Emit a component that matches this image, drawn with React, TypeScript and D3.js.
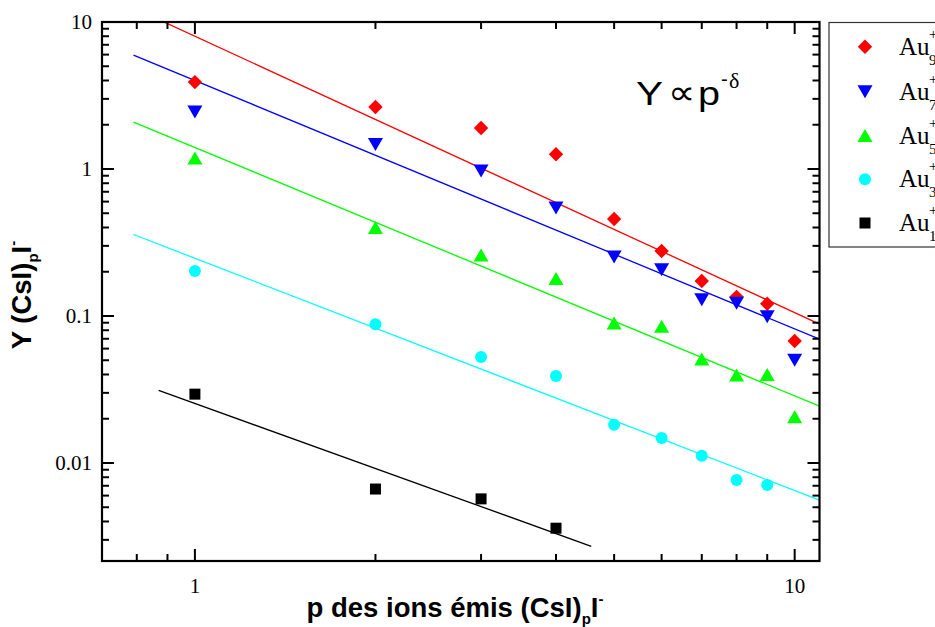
import React from 'react';
import * as d3 from 'd3';

// ---- data ----
const pValues = [1, 2, 3, 4, 5, 6, 7, 8, 9, 10];
const au9 = [3.9, 2.64, 1.9, 1.26, 0.457, 0.277, 0.173, 0.135, 0.121, 0.0676];
const au7 = [2.44, 1.47, 0.97, 0.543, 0.252, 0.206, 0.129, 0.122, 0.099, 0.050];
const au5 = [1.19, 0.40, 0.26, 0.18, 0.0896, 0.085, 0.051, 0.0397, 0.040, 0.0206];
const au3 = [0.202, 0.088, 0.0526, 0.039, 0.0182, 0.0148, 0.0112, 0.00766, 0.00708];
const au1 = [0.0294, 0.00665, 0.0057, 0.0036];

const seriesNames = ['9', '7', '5', '3', '1'];
const seriesColors = ['#ff0000', '#0000ff', '#00ff00', '#00ffff', '#000000'];
const seriesShapes = ['diamond', 'triDown', 'triUp', 'circle', 'square'];
const seriesValues = [au9, au7, au5, au3, au1];

// power-law fits Y = A * p^-delta
const fitAmp = [8.0, 4.0, 1.40, 0.247, 0.0254];
const fitDelta = [1.88, 1.69, 1.69, 1.58, 1.47];
const fitStart = [0.79, 0.79, 0.79, 0.79, 0.87];
const fitEnd = [11, 11, 11, 11, 4.58];

const xMajorTicks = [1, 10];
const xMinorTicks = [0.8, 0.9, 2, 3, 4, 5, 6, 7, 8, 9];
const yMajorTicks = [10, 1, 0.1, 0.01];
const yTickLabels = ['10', '1', '0.1', '0.01'];

// ---- layout ----
const W = 935;
const H = 627;
const L = 102, R = 819.5, T = 22, B = 561;

const x = d3.scaleLog().domain([0.7, 11]).range([L, R]);
const y = d3.scaleLog().domain([0.002154, 10]).range([B, T]);

function yMinorTicks(): number[] {
  const out: number[] = [];
  for (let e = -3; e <= 0; e++) {
    for (let m = 2; m <= 9; m++) {
      const v = m * Math.pow(10, e);
      if (v > 0.002154 && v < 10) out.push(v);
    }
  }
  return out;
}

function Marker({ shape, cx, cy, color }: { shape: string; cx: number; cy: number; color: string }) {
  if (shape === 'circle') return <circle cx={cx} cy={cy} r={6} fill={color} />;
  if (shape === 'square') return <rect x={cx - 5.5} y={cy - 5.5} width={11} height={11} fill={color} />;
  let d = '';
  if (shape === 'diamond') d = `M${cx},${cy - 7.2}L${cx + 7.2},${cy}L${cx},${cy + 7.2}L${cx - 7.2},${cy}Z`;
  if (shape === 'triDown') d = `M${cx - 7.5},${cy - 6.5}L${cx + 7.5},${cy - 6.5}L${cx},${cy + 6.5}Z`;
  if (shape === 'triUp') d = `M${cx - 7.5},${cy + 6.5}L${cx + 7.5},${cy + 6.5}L${cx},${cy - 6.5}Z`;
  return <path d={d} fill={color} />;
}

export default function App() {
  const fitPath = (i: number) => {
    const pts: [number, number][] = [fitStart[i], fitEnd[i]].map((p) => [x(p), y(fitAmp[i] * Math.pow(p, -fitDelta[i]))]);
    return d3.line()(pts) || '';
  };
  const serif = '"Liberation Serif", "Times New Roman", serif';
  const sans = '"Liberation Sans", Arial, sans-serif';
  const minorY = yMinorTicks();
  const legendY = [46.7, 91.7, 135.5, 179.3, 223];

  return (
    <svg width={W} height={H} style={{ position: 'absolute', left: 0, top: 0, background: '#fff' }}>
      <rect x={0} y={0} width={W} height={H} fill="#fff" />
      <defs>
        <clipPath id="plotClip">
          <rect x={L} y={T} width={R - L} height={B - T} />
        </clipPath>
      </defs>

      {/* fit lines */}
      <g clipPath="url(#plotClip)">
        {seriesColors.map((c, i) => (
          <path key={i} d={fitPath(i)} stroke={c} strokeWidth={1.3} fill="none" />
        ))}
      </g>

      {/* data points */}
      {seriesValues.map((vals, si) =>
        vals.map((v, j) => (
          <Marker key={`${si}-${j}`} shape={seriesShapes[si]} cx={x(pValues[j])} cy={y(v)} color={seriesColors[si]} />
        ))
      )}

      {/* ticks */}
      <g stroke="#000" strokeWidth={2}>
        {xMajorTicks.map((t) => (
          <g key={`xM${t}`}>
            <line x1={x(t)} x2={x(t)} y1={B} y2={B - 12} />
            <line x1={x(t)} x2={x(t)} y1={T} y2={T + 12} />
          </g>
        ))}
        {xMinorTicks.map((t) => (
          <g key={`xm${t}`}>
            <line x1={x(t)} x2={x(t)} y1={B} y2={B - 7} />
            <line x1={x(t)} x2={x(t)} y1={T} y2={T + 7} />
          </g>
        ))}
        {yMajorTicks.map((t) => (
          <g key={`yM${t}`}>
            <line x1={L} x2={L + 12} y1={y(t)} y2={y(t)} />
            <line x1={R} x2={R - 12} y1={y(t)} y2={y(t)} />
          </g>
        ))}
        {minorY.map((t) => (
          <g key={`ym${t}`}>
            <line x1={L} x2={L + 7} y1={y(t)} y2={y(t)} />
            <line x1={R} x2={R - 7} y1={y(t)} y2={y(t)} />
          </g>
        ))}
      </g>

      {/* frame */}
      <rect x={L} y={T} width={R - L} height={B - T} fill="none" stroke="#000" strokeWidth={2.2} />

      {/* tick labels */}
      {yMajorTicks.map((t, i) => (
        <text key={`yl${t}`} x={92} y={y(t)} dy="0.35em" textAnchor="end" fontFamily={serif} fontSize={21} fill="#000">
          {yTickLabels[i]}
        </text>
      ))}
      {xMajorTicks.map((t) => (
        <text key={`xl${t}`} x={x(t)} y={593} textAnchor="middle" fontFamily={serif} fontSize={21} fill="#000">
          {String(t)}
        </text>
      ))}

      {/* axis titles */}
      <text x={455} y={617} textAnchor="middle" fontFamily={sans} fontWeight="bold" fontSize={27.5} fill="#000">
        p des ions émis (CsI)
        <tspan fontSize={15} dy={7}>p</tspan>
        <tspan fontSize={27.5} dy={-7}>I</tspan>
        <tspan fontSize={15} dy={-13}>-</tspan>
      </text>
      <text
        transform={`translate(31,295) rotate(-90)`}
        textAnchor="middle"
        fontFamily={sans}
        fontWeight="bold"
        fontSize={27.5}
        fill="#000"
      >
        Y (CsI)
        <tspan fontSize={15} dy={7}>p</tspan>
        <tspan fontSize={27.5} dy={-7}>I</tspan>
        <tspan fontSize={15} dy={-13}>-</tspan>
      </text>

      {/* annotation */}
      <g fill="#000">
        <text x={636} y={105} fontFamily={sans} fontSize={34} textLength={27} lengthAdjust="spacingAndGlyphs">Y</text>
        <text x={668} y={104} fontFamily={sans} fontSize={34} textLength={27} lengthAdjust="spacingAndGlyphs">∝</text>
        <text x={698} y={105} fontFamily={sans} fontSize={34} textLength={22} lengthAdjust="spacingAndGlyphs">p</text>
        <text x={721} y={86} fontFamily={sans} fontSize={20}>-</text>
        <text x={729} y={88} fontFamily={serif} fontSize={22}>δ</text>
      </g>

      {/* legend */}
      <rect x={829} y={22.5} width={140} height={224.5} fill="#fff" stroke="#333" strokeWidth={1.2} />
      {seriesNames.map((n, i) => (
        <g key={`lg${n}`}>
          <Marker shape={seriesShapes[i]} cx={865} cy={legendY[i]} color={seriesColors[i]} />
          <text x={899} y={legendY[i] + 8} fontFamily={serif} fontSize={25} fill="#000">Au</text>
          <text x={929} y={legendY[i] + 18} fontFamily={serif} fontSize={15} fill="#000">{n}</text>
          <text x={929} y={legendY[i] - 8} fontFamily={serif} fontSize={15} fill="#000">+</text>
        </g>
      ))}
    </svg>
  );
}
